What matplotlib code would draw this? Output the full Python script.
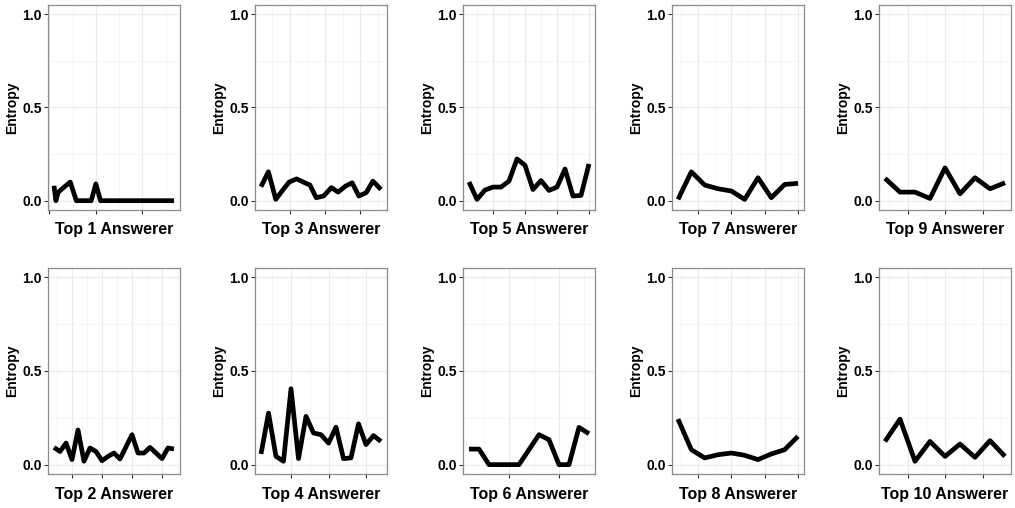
import matplotlib
matplotlib.use("Agg")
import matplotlib.pyplot as plt
import numpy as np

plt.rcParams['font.family'] = ['Liberation Sans', 'DejaVu Sans']
plt.rcParams['font.weight'] = 'bold'

# ---- data ----
top1_x = [1.0, 1.4, 1.9, 2.8, 4.5, 5.8, 9.0, 10.0, 11.0, 26.8]
top1_y = [0.08, 0.0, 0.045, 0.065, 0.10, 0.0, 0.0, 0.09, 0.0, 0.0]

top3_x = [1.8, 3.9, 6.0, 7.9, 9.8, 11.9, 13.8, 15.7, 17.5, 19.6, 21.8, 23.7,
          25.8, 27.7, 29.6, 31.7, 33.6, 35.9]
top3_y = [0.075, 0.155, 0.007, 0.055, 0.10, 0.117, 0.10, 0.084, 0.016, 0.025,
          0.07, 0.046, 0.078, 0.096, 0.025, 0.043, 0.105, 0.06]

top5_x = [2.5, 5, 7.5, 10, 12.5, 15, 17.5, 20, 22.5, 25, 27.5, 30, 32.5, 35, 37.5, 40]
top5_y = [0.10, 0.007, 0.057, 0.073, 0.073, 0.105, 0.224, 0.19, 0.06, 0.108,
          0.055, 0.073, 0.17, 0.025, 0.028, 0.197]

top7_x = [4, 8, 12, 16, 20, 24, 28, 32, 36, 40]
top7_y = [0.007, 0.155, 0.084, 0.064, 0.052, 0.007, 0.123, 0.016, 0.087, 0.093]

top9_x = [4, 8, 12, 16, 20, 24, 28, 32, 36]
top9_y = [0.12, 0.046, 0.046, 0.012, 0.176, 0.037, 0.123, 0.064, 0.096]

top2_x = [4, 6, 8, 10, 12, 14, 16, 18, 20, 22, 24, 26, 28, 30, 32, 34, 36, 38, 40, 42, 44]
top2_y = [0.092, 0.07, 0.115, 0.027, 0.185, 0.018, 0.089, 0.07, 0.021, 0.044, 0.062,
          0.03, 0.095, 0.16, 0.062, 0.062, 0.092, 0.062, 0.032, 0.089, 0.083]

top4_x = [2, 4, 6, 8, 10, 12, 14, 16, 18, 20, 22, 24, 26, 28, 30, 32, 34]
top4_y = [0.057, 0.275, 0.044, 0.018, 0.405, 0.032, 0.258, 0.169, 0.16, 0.115,
          0.2, 0.032, 0.036, 0.218, 0.107, 0.155, 0.124]

top6_x = [2, 4, 6, 8, 10, 12, 14, 16, 18, 20, 22, 24, 26]
top6_y = [0.083, 0.083, 0.0, 0.0, 0.0, 0.0, 0.08, 0.16, 0.133, 0.0, 0.0, 0.199, 0.165]

top8_x = [4, 8, 12, 16, 20, 24, 28, 32, 36, 40]
top8_y = [0.243, 0.08, 0.036, 0.053, 0.062, 0.05, 0.027, 0.057, 0.08, 0.151]

top10_x = [4, 8, 12, 16, 20, 24, 28, 32, 36]
top10_y = [0.124, 0.243, 0.018, 0.124, 0.044, 0.11, 0.039, 0.128, 0.044]

titles = ["Top 1 Answerer", "Top 3 Answerer", "Top 5 Answerer", "Top 7 Answerer", "Top 9 Answerer",
          "Top 2 Answerer", "Top 4 Answerer", "Top 6 Answerer", "Top 8 Answerer", "Top 10 Answerer"]
xs = [top1_x, top3_x, top5_x, top7_x, top9_x, top2_x, top4_x, top6_x, top8_x, top10_x]
ys = [top1_y, top3_y, top5_y, top7_y, top9_y, top2_y, top4_y, top6_y, top8_y, top10_y]
x_ticks = [[0, 10, 20], [10, 20, 30], [10, 20, 30, 40], [10, 20, 30, 40], [10, 20, 30],
           [10, 20, 30, 40], [10, 20, 30], [10, 20], [10, 20, 30, 40], [10, 20, 30]]
y_ticks = [0.0, 0.5, 1.0]
y_ticklabels = ["0.0", "0.5", "1.0"]

# ---- layout ----
W, H = 1015, 508
fig = plt.figure(figsize=(W / 100, H / 100), dpi=100)

lefts = [48, 255, 463, 672, 879]
pw = 132
rows = [(5, 210), (268, 474)]

for i in range(10):
    r, c = divmod(i, 5)
    top, bot = rows[r]
    ax = fig.add_axes([lefts[c] / W, 1 - bot / H, pw / W, (bot - top) / H])
    x = np.array(xs[i], dtype=float)
    y = np.array(ys[i], dtype=float)
    span = x.max() - x.min()
    xlim = (x.min() - 0.05 * span, x.max() + 0.05 * span)
    ax.set_xlim(*xlim)
    ax.set_ylim(-0.05, 1.05)

    major = np.array(x_ticks[i], dtype=float)
    step = 10.0
    minor = np.arange(major.min() - step / 2, xlim[1] + step, step)
    minor = minor[(minor > xlim[0]) & (minor < xlim[1])]
    ax.set_xticks(major)
    ax.set_xticks(minor, minor=True)
    ax.set_xticklabels([])
    ax.set_yticks(y_ticks)
    ax.set_yticks([0.25, 0.75], minor=True)
    ax.set_yticklabels(y_ticklabels, fontsize=10, fontweight='bold', color='black')

    ax.grid(which='major', color='#EBEBEB', linewidth=0.9)
    ax.grid(which='minor', color='#F2F2F2', linewidth=0.5)
    ax.set_axisbelow(True)
    ax.tick_params(which='major', length=2.6, width=0.8, color='#333333', pad=1.8)
    ax.tick_params(which='minor', length=0)
    for s in ax.spines.values():
        s.set_color('#8C8C8C')
        s.set_linewidth(0.9)

    ax.plot(x, y, color='black', linewidth=3.4, solid_joinstyle='round',
            solid_capstyle='butt')

    ax.set_xlabel(titles[i], fontsize=11.5, fontweight='bold', va='center')
    ax.xaxis.set_label_coords(0.5, -20 / (bot - top))
    ax.set_ylabel("Entropy", fontsize=10, fontweight='bold', va='center')
    ax.yaxis.set_label_coords(-36 / pw, 0.5)

fig.savefig("out.png", dpi=100, facecolor='white')
